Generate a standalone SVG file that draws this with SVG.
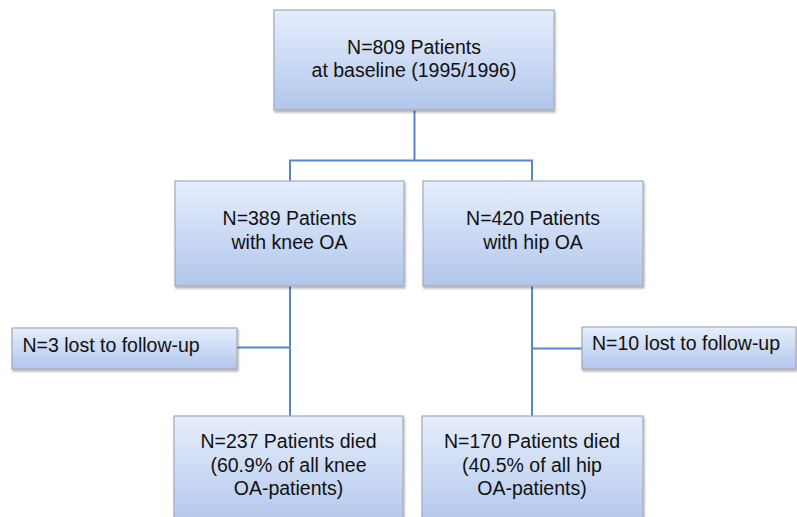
<svg xmlns="http://www.w3.org/2000/svg" width="797" height="517" viewBox="0 0 797 517">
<defs>
<linearGradient id="g" x1="0" y1="0" x2="0" y2="1">
<stop offset="0" stop-color="#e6eefc"/>
<stop offset="1" stop-color="#b2c6ec"/>
</linearGradient>
<filter id="sh" x="-5%" y="-5%" width="110%" height="120%">
<feDropShadow dx="1" dy="2" stdDeviation="1.2" flood-color="#000" flood-opacity="0.3"/>
</filter>
<style>
.box{fill:url(#g);stroke:#a3abba;stroke-width:1.2;filter:url(#sh)}
.t{font-family:"Liberation Sans",Arial,sans-serif;font-size:19.5px;fill:#111}
.c{text-anchor:middle}
.ln{stroke:#5b86c6;stroke-width:2;fill:none}
</style>
</defs>
<rect width="797" height="517" fill="#fff"/>
<g id="connectors">
<path class="ln" d="M414.5 110 V160.5 M289 160.5 H533 M290 160.5 V181 M532 160.5 V181"/>
<path class="ln" d="M290 286 V416 M532 286 V416 M237 347.5 H290 M532 348.5 H582"/>
</g>
<g id="n809">
<rect class="box" x="274" y="10" width="280" height="100"/>
<text class="t c" x="414" y="54">N=809 Patients</text>
<text class="t c" x="414" y="77">at baseline (1995/1996)</text>
</g>
<g id="n389">
<rect class="box" x="175" y="181" width="229" height="105"/>
<text class="t c" x="289.5" y="224.5">N=389 Patients</text>
<text class="t c" x="289.5" y="248.5">with knee OA</text>
</g>
<g id="n420">
<rect class="box" x="423" y="181" width="220" height="105"/>
<text class="t c" x="533" y="224.5">N=420 Patients</text>
<text class="t c" x="533" y="248.5">with hip OA</text>
</g>
<g id="lost3">
<rect class="box" x="12" y="328" width="225" height="41"/>
<text class="t" x="22.5" y="351.5">N=3 lost to follow-up</text>
</g>
<g id="lost10">
<rect class="box" x="582" y="327" width="214" height="42"/>
<text class="t" x="592" y="350">N=10 lost to follow-up</text>
</g>
<g id="died237">
<rect class="box" x="174" y="416" width="229" height="110"/>
<text class="t c" x="288.5" y="447.5">N=237 Patients died</text>
<text class="t c" x="288.5" y="471.5">(60.9% of all knee</text>
<text class="t c" x="288.5" y="495">OA-patients)</text>
</g>
<g id="died170">
<rect class="box" x="422" y="416" width="221" height="110"/>
<text class="t c" x="532" y="447.5">N=170 Patients died</text>
<text class="t c" x="532" y="471.5">(40.5% of all hip</text>
<text class="t c" x="532" y="495">OA-patients)</text>
</g>
</svg>
